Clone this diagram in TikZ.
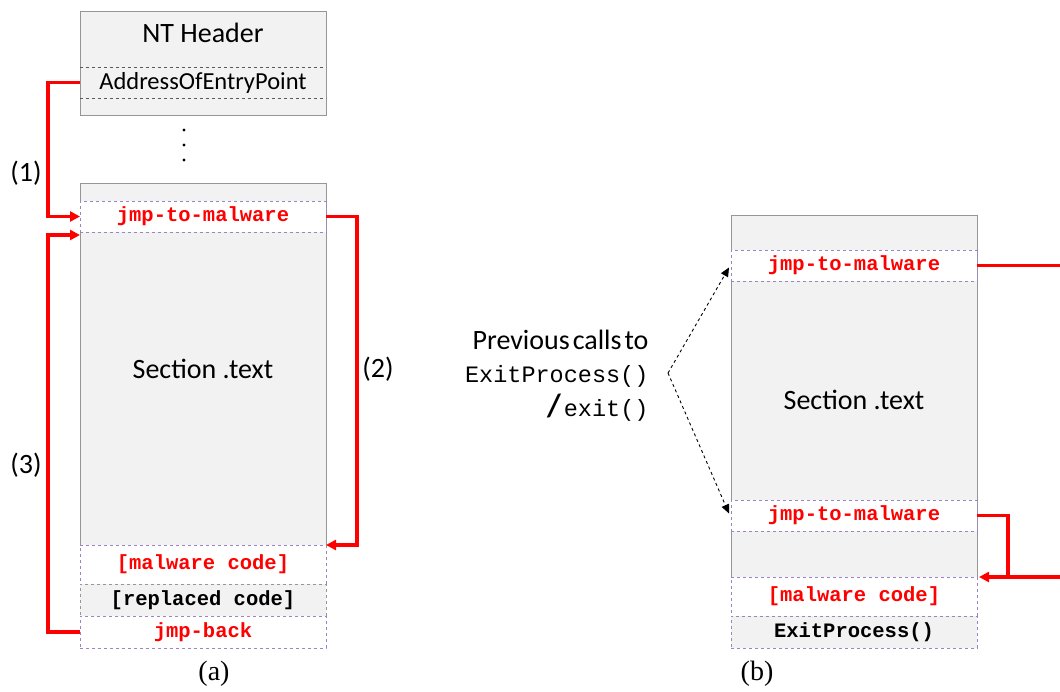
\documentclass[tikz,border=0pt]{standalone}
\usepackage{fontspec}
\setmainfont{Carlito}
\setmonofont{Liberation Mono}
\newfontfamily\capfont{Liberation Serif}
\usetikzlibrary{arrows.meta,calc}
\definecolor{boxfill}{HTML}{F2F2F2}
\definecolor{boxline}{HTML}{969696}
\definecolor{purp}{HTML}{9C84C4}
\definecolor{dgray}{HTML}{595959}
\definecolor{rred}{HTML}{FF0000}
\begin{document}
\begin{tikzpicture}[x=1pt,y=-1pt,
  blk/.style={anchor=north west,inner sep=0pt,outer sep=0pt,minimum width=246pt},
  secbox/.style={blk,fill=boxfill,draw=boxline,line width=1pt},
  redrow/.style={blk,fill=white,draw=purp,dashed,line width=0.9pt,font=\fontsize{20.5}{22}\selectfont\ttfamily\bfseries,text=rred},
  grayrow/.style={blk,fill=boxfill,draw=boxline,dashed,line width=0.9pt,font=\fontsize{20.5}{22}\selectfont\ttfamily\bfseries,text=black},
  lbl/.style={font=\fontsize{28}{32}\selectfont},
  captxt/.style={font=\fontsize{28}{32}\selectfont\capfont},
  redarrow/.style={draw=rred,line width=3.6pt,-{Triangle[length=10pt,width=10pt]}},
  redline/.style={draw=rred,line width=3.6pt},
  dasharrow/.style={draw=black,dashed,line width=0.9pt,-{Triangle[length=9pt,width=8pt]}}
]
\useasboundingbox (0,0) rectangle (1060,691);

% ---------- (a) ----------
\node[secbox,minimum height=104pt] (nt) at (80,11) {};
\node[lbl] (nttxt) at (203,33) {NT Header};
\node[blk,minimum height=31pt,font=\fontsize{24.5}{28}\selectfont] (aoep) at (80,67) {AddressOfEntryPoint};
\draw[dgray,dashed,line width=1pt] (aoep.north west) -- (aoep.north east);
\draw[dgray,dashed,line width=1pt] (aoep.south west) -- (aoep.south east);

\fill (184,130) circle (1.7pt) (184,145) circle (1.7pt) (184,160) circle (1.7pt);

\node[secbox,minimum height=362pt] (secA) at (80,183) {};
\node[lbl] (secAtxt) at (203,369) {Section .text};
\node[redrow,minimum height=31pt] (jmpA) at (80,201) {jmp-to-malware};
\node[redrow,minimum height=39pt] (malA) at (80,545) {[malware code]};
\node[grayrow,minimum height=32pt] (repA) at (80,584) {[replaced code]};
\node[redrow,minimum height=32pt] (backA) at (80,616) {jmp-back};
\draw[purp,dashed,line width=0.9pt] (malA.north west) -- (malA.north east);

\node[lbl] (l1) at (26,173) {(1)};
\node[lbl] (l2) at (378,369) {(2)};
\node[lbl] (l3) at (26,465) {(3)};

\draw[redarrow] (aoep.west) -- ++(-32,0) |- (jmpA.west);
\draw[redarrow] (jmpA.east) -- ++(31,0) |- (malA.north east);
\draw[redarrow] (backA.west) -- ++(-32,0) |- ($(jmpA.south west)+(0,3)$);

\node[captxt] (capa) at (214,674) {(a)};

% ---------- (b) ----------
\node[secbox,minimum height=362pt] (secB) at (731,215) {};
\node[lbl] (secBtxt) at (854,400) {Section .text};
\node[redrow,minimum height=31pt] (jmpB1) at (731,250) {jmp-to-malware};
\node[redrow,minimum height=31pt] (jmpB2) at (731,500) {jmp-to-malware};
\node[redrow,minimum height=39pt] (malB) at (731,577) {[malware code]};
\node[grayrow,minimum height=32pt,draw=purp] (exitB) at (731,616) {ExitProcess()};
\draw[purp,dashed,line width=0.9pt] (malB.north west) -- (malB.north east);

\coordinate (edge1) at (1060,265.5);
\coordinate (edge2) at (1060,577);
\coordinate (corner) at (1008,577);
\draw[redline] (jmpB1.east) -- (edge1);
\draw[redline] (edge2) -- (corner);
\draw[redarrow] (jmpB2.east) -| (corner) -- ($(malB.north east)+(2,0)$);

\node[lbl,anchor=east] (prev) at (652,340) {Previous\hspace{3pt}calls\hspace{3pt}to};
\node[anchor=east,font=\fontsize{23.5}{26}\selectfont\ttfamily] (exitp) at (652,376) {ExitProcess()};
\node[anchor=east,font=\fontsize{23.5}{26}\selectfont\ttfamily] (exitc) at (652,408) {{\fontsize{32}{34}\rmfamily\bfseries /}\hspace{3pt}exit()};
\coordinate (vtx) at (668,373);
\draw[dasharrow] (vtx) -- ($(jmpB1.west)+(-2,2)$);
\draw[dasharrow] (vtx) -- ($(jmpB2.west)+(-2,-2)$);

\node[captxt] (capb) at (757,674) {(b)};
\end{tikzpicture}
\end{document}
